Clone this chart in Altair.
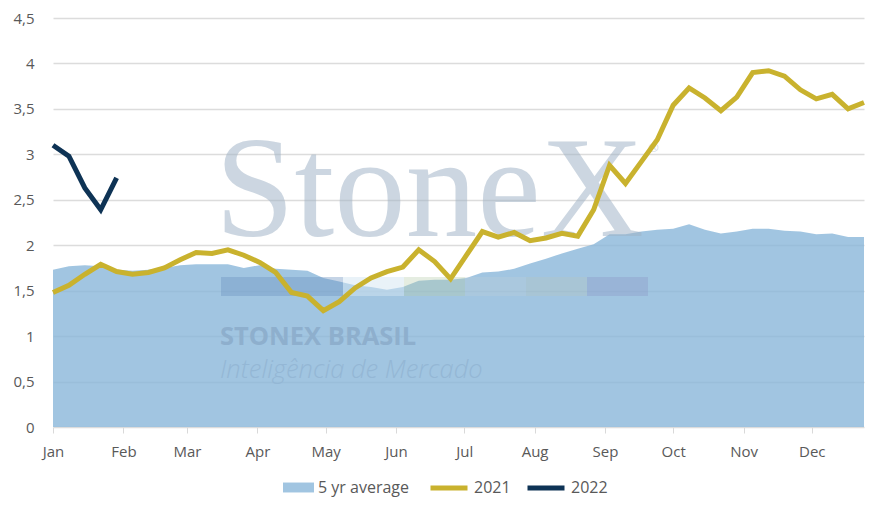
import pandas as pd
import altair as alt

# weekly dates (52 weeks), shared by all series
weeks = [d.strftime("%Y-%m-%d") for d in pd.date_range("2021-01-01", periods=52, freq="7D")]

avg_5yr = [1.73, 1.77, 1.78, 1.77, 1.73, 1.72, 1.73, 1.75, 1.78, 1.79,
           1.79, 1.79, 1.75, 1.78, 1.74, 1.73, 1.72, 1.64, 1.60, 1.56,
           1.54, 1.51, 1.54, 1.61, 1.62, 1.62, 1.64, 1.70, 1.71, 1.74,
           1.80, 1.85, 1.91, 1.96, 2.01, 2.12, 2.12, 2.15, 2.17, 2.18,
           2.23, 2.17, 2.13, 2.15, 2.18, 2.18, 2.16, 2.15, 2.12, 2.13,
           2.09, 2.09]

y2021 = [1.48, 1.56, 1.68, 1.79, 1.71, 1.68, 1.70, 1.75, 1.84, 1.92,
         1.91, 1.95, 1.89, 1.81, 1.70, 1.48, 1.44, 1.28, 1.38, 1.53,
         1.64, 1.71, 1.76, 1.95, 1.82, 1.63, 1.89, 2.15, 2.09, 2.14,
         2.05, 2.08, 2.13, 2.10, 2.39, 2.88, 2.68, 2.92, 3.16, 3.54,
         3.73, 3.62, 3.48, 3.63, 3.90, 3.92, 3.86, 3.71, 3.61, 3.66,
         3.50, 3.57]

y2022 = [3.10, 2.98, 2.63, 2.39, 2.74]

series = ["5 yr average", "2021", "2022"]
colors = ["#8ab7d9", "#c9b22e", "#0e3355"]
y_ticks = [0, 0.5, 1, 1.5, 2, 2.5, 3, 3.5, 4, 4.5]

rows = []
for name, vals in zip(series, [avg_5yr, y2021, y2022]):
    for d, v in zip(weeks, vals):
        rows.append({"date": d, "value": v, "series": name})
df = pd.DataFrame(rows)

FONT = "Open Sans"
LABEL = "#595959"

x = alt.X(
    "date:T",
    scale=alt.Scale(type="utc", nice=False, padding=0),
    axis=alt.Axis(title=None, format="%b", tickCount="month", grid=False, domain=False,
                  ticks=True, tickColor="#d9d9d9", tickSize=6, labelFlush=False,
                  labelFont=FONT, labelFontSize=15, labelColor=LABEL, labelPadding=11),
)
y = alt.Y(
    "value:Q",
    scale=alt.Scale(domain=[0, 4.5], nice=False),
    axis=alt.Axis(title=None, values=y_ticks, labelExpr="replace(toString(datum.value), '.', ',')",
                  domain=False, ticks=False, gridColor="#dcdcdc", gridWidth=1.5,
                  labelFont=FONT, labelFontSize=15, labelColor=LABEL, labelPadding=19),
)

legend_common = dict(title=None, orient="none", direction="horizontal",
                     labelFont=FONT, labelFontSize=16, labelColor=LABEL, labelOffset=4,
                     padding=0)

base = alt.Chart(df).encode(x=x, y=y)

area = base.mark_area(opacity=0.8).encode(
    fill=alt.Fill("series:N", scale=alt.Scale(domain=series[:1], range=colors[:1]),
                  legend=alt.Legend(symbolType="M-1,-0.32L1,-0.32L1,0.32L-1,0.32Z", symbolSize=961,
                                    symbolStrokeWidth=0, legendX=230, legendY=454,
                                    **legend_common)),
).transform_filter(alt.datum.series == "5 yr average")

lines = base.mark_line(strokeWidth=5).encode(
    stroke=alt.Stroke("series:N", scale=alt.Scale(domain=series[1:], range=colors[1:]),
                      legend=alt.Legend(symbolType="stroke", symbolSize=1369, symbolStrokeWidth=5,
                                        columnPadding=6, legendX=375, legendY=449,
                                        **legend_common)),
).transform_filter(alt.datum.series != "5 yr average")

# watermark
one = alt.Chart(pd.DataFrame({"k": [0]}))
band_edges = [168, 290, 351, 412, 473, 534, 595]
band_colors = ["#6f94c0", "#d4e6f2", "#b5ccaa", "#c0cfd8", "#b8c8b8", "#8e9cc8"]
band_opac = [0.4, 0.5, 0.35, 0.3, 0.3, 0.4]
bands = [
    one.mark_rect(color=c, opacity=o).encode(
        x=alt.value(band_edges[i]), x2=alt.value(band_edges[i + 1]),
        y=alt.value(259), y2=alt.value(278))
    for i, (c, o) in enumerate(zip(band_colors, band_opac))
]
wm_big = one.mark_text(font="Liberation Serif", fontSize=143, align="left", baseline="alphabetic",
                       color="#9fb2c6", opacity=0.52).encode(
    x=alt.value(162), y=alt.value(218), text=alt.value("StoneX"))
wm_reg = one.mark_text(font="DejaVu Sans", fontSize=13, align="left", baseline="middle",
                       color="#9fb2c6", opacity=0.5).encode(
    x=alt.value(594), y=alt.value(130), text=alt.value("®"))
wm_brand = one.mark_text(font=FONT, fontSize=25.5, fontWeight="bold", align="left",
                         baseline="alphabetic", color="#8eafcd").encode(
    x=alt.value(167), y=alt.value(327), text=alt.value("STONEX BRASIL"))
wm_sub = one.mark_text(font=FONT, fontSize=25.5, fontStyle="italic", fontWeight=300, align="left",
                       baseline="alphabetic", color="#94b7d5").encode(
    x=alt.value(167), y=alt.value(360), text=alt.value("Inteligência de Mercado"))

chart = alt.layer(
    area, *bands, wm_big, wm_reg, wm_brand, wm_sub, lines
).properties(
    width=811, height=409,
    padding={"left": 45, "top": 10, "right": 8, "bottom": 78},
    autosize=alt.AutoSizeParams(type="none"),
).configure_view(stroke=None)

chart.save("out.html", embed_options={"renderer": "svg", "actions": False})
